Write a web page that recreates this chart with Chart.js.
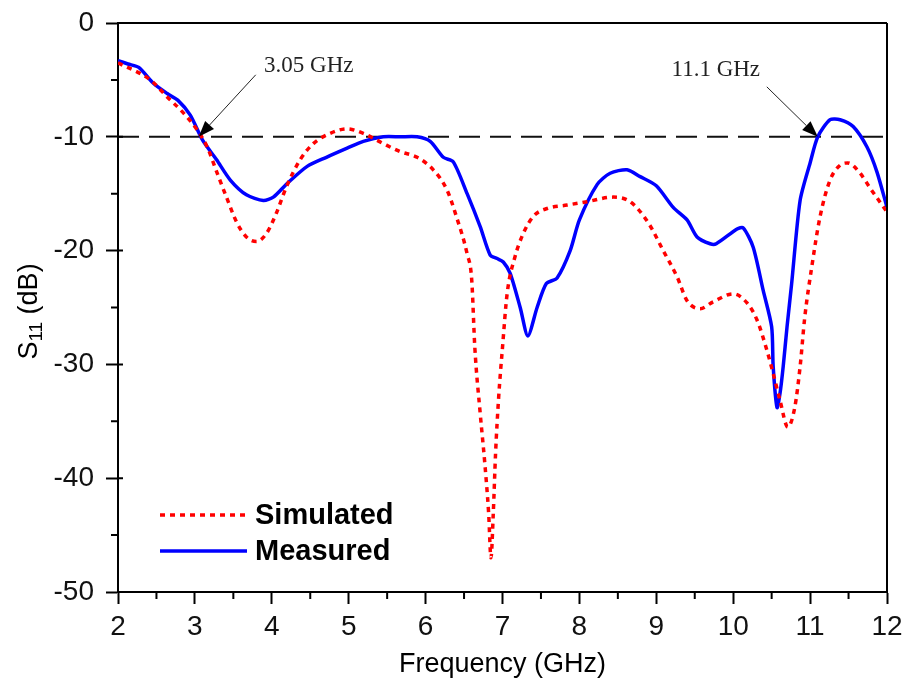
<!DOCTYPE html>
<html>
<head>
<meta charset="utf-8">
<script src="https://cdn.jsdelivr.net/npm/chart.js@4.4.1/dist/chart.umd.min.js"></script>
<style>
  html, body { margin: 0; padding: 0; background: #ffffff; }
  #wrap { width: 906px; height: 686px; }
</style>
</head>
<body>
<div id="wrap"><canvas id="c" width="906" height="686"></canvas></div>
<script>
// Simulated S11 (GHz, dB)
const simFreq = [2.0, 2.42, 2.64, 2.85, 3.03, 3.16, 3.29, 3.41, 3.55, 3.67, 3.8, 3.93, 4.06, 4.19, 4.37, 4.54, 4.76, 4.98, 5.19, 5.45, 5.67, 5.89, 6.1, 6.28, 6.4, 6.54, 6.6, 6.64, 6.71, 6.77, 6.82, 6.85, 6.88, 6.91, 6.95, 7.0, 7.06, 7.16, 7.27, 7.4, 7.58, 7.84, 8.1, 8.44, 8.66, 8.9, 9.09, 9.27, 9.4, 9.57, 9.74, 10.0, 10.18, 10.31, 10.44, 10.52, 10.61, 10.71, 10.8, 10.87, 10.93, 11.02, 11.13, 11.26, 11.39, 11.49, 11.65, 11.78, 12.0];
const simS11 = [-3.5, -5.0, -6.5, -7.9, -9.4, -10.9, -13.2, -15.3, -17.6, -18.8, -19.2, -18.5, -16.7, -14.4, -12.0, -10.6, -9.7, -9.3, -9.7, -10.6, -11.3, -11.8, -12.9, -14.7, -17.0, -20.3, -22.6, -28.5, -34.3, -38.7, -43.1, -47.0, -43.1, -37.8, -32.9, -28.5, -23.8, -20.6, -18.5, -17.0, -16.3, -16.0, -15.7, -15.3, -15.7, -17.6, -20.0, -22.3, -24.4, -25.1, -24.5, -23.8, -24.6, -26.1, -28.8, -30.8, -33.2, -35.5, -33.8, -30.2, -25.9, -21.5, -17.0, -13.8, -12.5, -12.3, -13.2, -14.5, -16.6];

// Measured S11 (GHz, dB)
const measFreq = [2.0, 2.13, 2.27, 2.46, 2.64, 2.78, 2.94, 3.1, 3.28, 3.46, 3.67, 3.89, 4.02, 4.2, 4.46, 4.71, 4.98, 5.19, 5.45, 5.67, 5.89, 6.06, 6.23, 6.36, 6.54, 6.71, 6.84, 6.93, 7.01, 7.1, 7.23, 7.33, 7.45, 7.57, 7.71, 7.88, 8.0, 8.23, 8.4, 8.62, 8.79, 9.0, 9.22, 9.4, 9.53, 9.7, 9.78, 10.05, 10.13, 10.26, 10.39, 10.5, 10.52, 10.57, 10.61, 10.65, 10.7, 10.76, 10.87, 11.0, 11.1, 11.26, 11.39, 11.56, 11.74, 11.87, 12.0];
const measS11 = [-3.3, -3.6, -3.9, -5.3, -6.2, -6.8, -8.1, -10.3, -12.0, -13.8, -15.1, -15.6, -15.3, -14.1, -12.6, -11.8, -11.0, -10.4, -10.0, -10.0, -10.0, -10.4, -11.8, -12.2, -15.0, -17.9, -20.4, -20.7, -21.0, -22.0, -25.0, -27.5, -25.0, -22.9, -22.4, -20.0, -17.3, -14.2, -13.2, -12.9, -13.5, -14.3, -16.2, -17.3, -18.8, -19.4, -19.4, -18.1, -18.0, -19.7, -23.5, -26.7, -30.2, -33.8, -32.5, -30.2, -26.7, -22.9, -15.6, -12.3, -10.0, -8.5, -8.5, -9.1, -10.9, -13.1, -16.2];

// -10 dB reference level across the band
const refFreq = [2, 12];
const refS11 = [-10, -10];

// Band-edge markers
const markerFreq = [3.05, 11.1];
const markerText = ['3.05 GHz', '11.1 GHz'];

const yMajorTicks = [-50, -40, -30, -20, -10, 0];
const xMinorTicks = [2.5, 3.5, 4.5, 5.5, 6.5, 7.5, 8.5, 9.5, 10.5, 11.5];
const yMinorTicks = [-45, -35, -25, -15, -5];

const pts = (xs, ys) => xs.map((x, i) => ({ x: x, y: ys[i] }));

const SANS = '"Liberation Sans", Arial, sans-serif';
const SERIF = '"Liberation Serif", "Times New Roman", serif';

// Frame, minor ticks and axis titles
const framePlugin = {
  id: 'frame',
  afterDraw(chart) {
    const { ctx, chartArea: a } = chart;
    const xs = chart.scales.x, ys = chart.scales.y;
    ctx.save();
    ctx.strokeStyle = '#000';
    ctx.lineWidth = 2;
    ctx.beginPath();
    ctx.moveTo(a.left, a.top); ctx.lineTo(a.right, a.top);
    ctx.moveTo(a.right, a.top); ctx.lineTo(a.right, a.bottom);
    xMinorTicks.forEach(v => {
      const px = xs.getPixelForValue(v);
      ctx.moveTo(px, a.bottom); ctx.lineTo(px, a.bottom + 7);
    });
    yMinorTicks.forEach(v => {
      const py = ys.getPixelForValue(v);
      ctx.moveTo(a.left, py); ctx.lineTo(a.left - 7, py);
    });
    yMajorTicks.forEach(v => {
      const py = ys.getPixelForValue(v);
      ctx.moveTo(a.left, py); ctx.lineTo(a.left + 5, py);
    });
    ctx.stroke();

    // x title
    ctx.fillStyle = '#000';
    ctx.font = '27px ' + SANS;
    ctx.textAlign = 'center';
    ctx.textBaseline = 'middle';
    ctx.fillText('Frequency (GHz)', (a.left + a.right) / 2, 665);

    // y title: S with subscript 11
    ctx.translate(27, (a.top + a.bottom) / 2 + 4);
    ctx.rotate(-Math.PI / 2);
    const big = '27px ' + SANS, small = '19px ' + SANS;
    ctx.font = big; const wS = ctx.measureText('S').width;
    const wRest = ctx.measureText(' (dB)').width;
    ctx.font = small; const wSub = ctx.measureText('11').width;
    let x0 = -(wS + wSub + wRest) / 2;
    ctx.textAlign = 'left';
    ctx.textBaseline = 'alphabetic';
    ctx.font = big; ctx.fillText('S', x0, 10);
    ctx.font = small; ctx.fillText('11', x0 + wS, 15);
    ctx.font = big; ctx.fillText(' (dB)', x0 + wS + wSub, 10);
    ctx.restore();
  }
};

// Arrows with frequency labels at the -10 dB crossings
const markerPlugin = {
  id: 'markers',
  afterDatasetsDraw(chart) {
    const { ctx } = chart;
    const xs = chart.scales.x, ys = chart.scales.y;
    const offsets = [
      { sx: 57, sy: -62, tx: 110, ty: -65 },
      { sx: -51, sy: -50, tx: -102, ty: -61 }
    ];
    ctx.save();
    markerFreq.forEach((f, i) => {
      const tipX = xs.getPixelForValue(f);
      const tipY = ys.getPixelForValue(refS11[0]);
      const o = offsets[i];
      const sX = tipX + o.sx, sY = tipY + o.sy;
      const ang = Math.atan2(tipY - sY, tipX - sX);
      const headLen = 16, headHalf = 6;
      const bx = tipX - headLen * Math.cos(ang), by = tipY - headLen * Math.sin(ang);
      ctx.strokeStyle = '#222';
      ctx.lineWidth = 1;
      ctx.beginPath();
      ctx.moveTo(sX, sY); ctx.lineTo(bx, by);
      ctx.stroke();
      ctx.fillStyle = '#000';
      ctx.beginPath();
      ctx.moveTo(tipX, tipY);
      ctx.lineTo(bx + headHalf * Math.sin(ang), by - headHalf * Math.cos(ang));
      ctx.lineTo(bx - headHalf * Math.sin(ang), by + headHalf * Math.cos(ang));
      ctx.closePath();
      ctx.fill();
      ctx.fillStyle = '#222';
      ctx.font = '23px ' + SERIF;
      ctx.textAlign = 'center';
      ctx.textBaseline = 'alphabetic';
      ctx.fillText(markerText[i], tipX + o.tx, tipY + o.ty);
    });
    ctx.restore();
  }
};

// Legend inside the plot
const insetLegend = {
  id: 'insetLegend',
  afterDatasetsDraw(chart) {
    const { ctx, chartArea: a } = chart;
    ctx.save();
    [0, 1].forEach((di, i) => {
      const ds = chart.data.datasets[di];
      const y = a.top + 492 + 36 * i;
      const x1 = a.left + 42, x2 = a.left + 129;
      ctx.strokeStyle = ds.borderColor;
      ctx.lineWidth = ds.borderWidth;
      ctx.setLineDash(ds.borderDash || []);
      ctx.beginPath();
      ctx.moveTo(x1, y); ctx.lineTo(x2, y);
      ctx.stroke();
      ctx.setLineDash([]);
      ctx.fillStyle = '#000';
      ctx.font = 'bold 29px ' + SANS;
      ctx.textAlign = 'left';
      ctx.textBaseline = 'middle';
      ctx.fillText(ds.label, x2 + 8, y + 1);
    });
    ctx.restore();
  }
};

// Fixed axis box sizes; label overflow is already covered by the layout padding
function fixX(s) { s.height = 94; s.paddingLeft = 0; s.paddingRight = 0; }
function fixY(s) { s.width = 118; s.paddingTop = 0; s.paddingBottom = 0; }

new Chart(document.getElementById('c'), {
  type: 'line',
  data: {
    datasets: [
      {
        label: 'Simulated',
        data: pts(simFreq, simS11),
        borderColor: '#ff0000',
        borderWidth: 3.5,
        borderDash: [5, 5],
        pointRadius: 0,
        cubicInterpolationMode: 'monotone',
        fill: false
      },
      {
        label: 'Measured',
        data: pts(measFreq, measS11),
        borderColor: '#0000ff',
        borderWidth: 3.5,
        pointRadius: 0,
        tension: 0.25,
        fill: false
      },
      {
        label: '-10 dB',
        data: pts(refFreq, refS11),
        borderColor: '#111111',
        borderWidth: 2,
        borderDash: [21, 10],
        pointRadius: 0,
        fill: false
      }
    ]
  },
  options: {
    responsive: false,
    devicePixelRatio: 1,
    animation: false,
    layout: { padding: { top: 23, right: 19, left: 0, bottom: 0 } },
    plugins: {
      legend: { display: false },
      tooltip: { enabled: false }
    },
    scales: {
      x: {
        type: 'linear',
        min: 2, max: 12,
        afterFit: fixX,
        ticks: { stepSize: 1, color: '#111', font: { family: SANS, size: 28 }, padding: 6, maxRotation: 0 },
        grid: { drawOnChartArea: false, drawTicks: true, tickLength: 12, tickWidth: 2, tickColor: '#000' },
        border: { display: true, color: '#000', width: 2 }
      },
      y: {
        type: 'linear',
        min: -50, max: 0,
        afterFit: fixY,
        ticks: { stepSize: 10, color: '#111', font: { family: SANS, size: 28 }, padding: 12 },
        grid: { drawOnChartArea: false, drawTicks: true, tickLength: 12, tickWidth: 2, tickColor: '#000' },
        border: { display: true, color: '#000', width: 2 }
      }
    }
  },
  plugins: [framePlugin, markerPlugin, insetLegend]
});
</script>
</body>
</html>
